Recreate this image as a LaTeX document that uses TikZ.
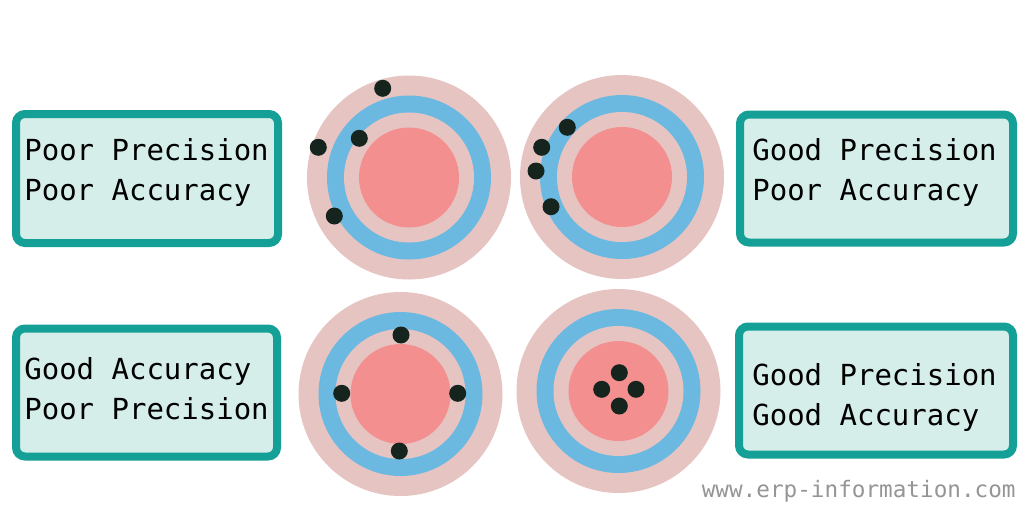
\documentclass[tikz,border=0pt]{standalone}
\usepackage{fontspec}
\setmonofont{DejaVu Sans Mono}
\usetikzlibrary{positioning}
\definecolor{ringpink}{HTML}{E6C4C2}
\definecolor{ringblue}{HTML}{6BB9E1}
\definecolor{bullpink}{HTML}{F48F8F}
\definecolor{shot}{HTML}{16241E}
\definecolor{boxfill}{HTML}{D5EEEA}
\definecolor{boxline}{HTML}{14A097}
\definecolor{wmark}{HTML}{959595}
\newcommand{\px}{0.02cm}

\begin{document}
\begin{tikzpicture}[x=\px,y=-\px,
  box/.style={draw=boxline,fill=boxfill,line width=8*\px,rounded corners=9*\px,inner sep=0pt},
  lbl/.style={font=\ttfamily\fontsize{16.5}{20}\selectfont,anchor=base west,inner sep=0pt},
  shotdot/.style={fill=shot}]
\fill[white] (0,0) rectangle (1024,512);
\useasboundingbox (0,0) rectangle (1024,512);
% targets
\foreach \cx/\cy in {409/177.5,622/177,400.5/394,618.5/391}
{\fill[ringpink] (\cx,\cy) circle (102);
 \fill[ringblue] (\cx,\cy) circle (82);
 \fill[ringpink] (\cx,\cy) circle (65);
 \fill[bullpink] (\cx,\cy) circle (50);}
% shots
\foreach \sx/\sy in {382.7/88.3,318.3/147.3,359.3/138.3,334.3/216,
  567.3/127.3,541.7/147.3,536/171,551/206.7,
  401/335,341.7/393.3,457.7/393.3,399.3/451,
  619.3/372.7,601.7/389.3,636/389.3,619.3/406}
{\fill[shotdot] (\sx,\sy) circle (8.5);}
% label boxes
\node[box,minimum width=262*\px,minimum height=129*\px] (ppBox) at (147,178.5) {};
\node[box,minimum width=273*\px,minimum height=128*\px] (gpBox) at (876.5,178.5) {};
\node[box,minimum width=261*\px,minimum height=128*\px] (gaBox) at (146.5,392.5) {};
\node[box,minimum width=274*\px,minimum height=128*\px] (ggBox) at (876,390.5) {};
\node[lbl] (ppA) at (24,160) {Poor Precision};
\node[lbl] (ppB) at ([yshift=-40*\px]ppA.base west) {Poor Accuracy};
\node[lbl] (gpA) at (752,160) {Good Precision};
\node[lbl] (gpB) at ([yshift=-40*\px]gpA.base west) {Poor Accuracy};
\node[lbl] (gaA) at (24,379) {Good Accuracy};
\node[lbl] (gaB) at ([yshift=-40*\px]gaA.base west) {Poor Precision};
\node[lbl] (ggA) at (752,385) {Good Precision};
\node[lbl] (ggB) at ([yshift=-40*\px]ggA.base west) {Good Accuracy};
\node[font=\ttfamily\fontsize{12.9}{15}\selectfont,text=wmark,anchor=base east,inner sep=0pt] (site) at (1016,497) {www.erp-information.com};
\end{tikzpicture}
\end{document}
